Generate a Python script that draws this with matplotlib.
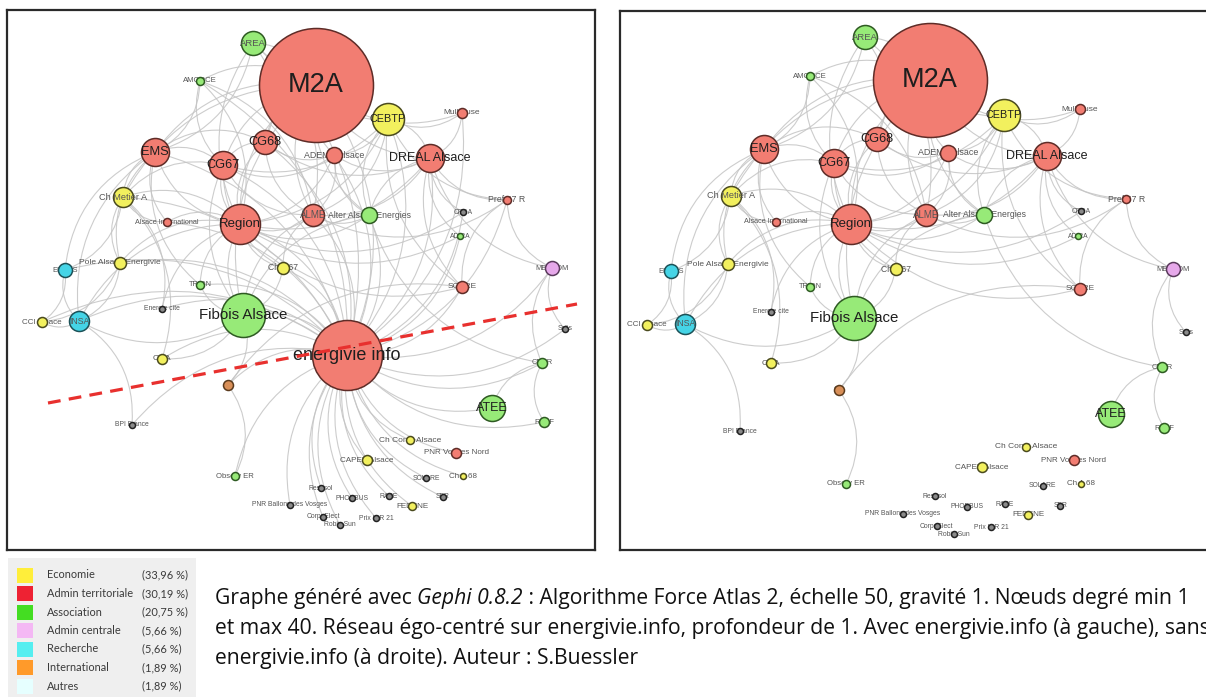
import matplotlib
matplotlib.use("Agg")
import matplotlib.pyplot as plt
from matplotlib.path import Path
from matplotlib.patches import PathPatch, Rectangle

# ---------------- data ----------------
node_names = [
    "M2A", "energivie info", "Fibois Alsace", "Region", "CEBTP", "DREAL Alsace",
    "EMS", "CG67", "ATEE", "CG68", "AREA", "ALME", "Ch Metier A", "INSA",
    "ADEME Alsace", "Alter Alsace Energies", "ENSAS", "MEEDDM", "SOPRE",
    "Pole Alsace Energivie", "Ch A 67", "Mulhouse", "CCI Alsace", "CDER", "RAEF",
    "GE", "CMA", "PNR Vosges Nord", "CAPEB Alsace", "Pref 67 R", "AMORCE", "TRION",
    "Observ ER", "Ch Const Alsace", "FEDENE", "Alsace International", "Ch A 68",
    "Solis", "CRDA", "ADIRA", "Energie cite", "BPI France", "SOLARE", "Resosol",
    "PHOEBUS", "RAPE", "SER", "PNR Ballons des Vosges", "CorpoElect", "Robin Sun",
    "Prix IDR 21",
]
# Gephi layout coordinates (left graph)
node_x = [316, 347, 243, 240, 388, 430, 155, 223, 492, 265, 253, 313, 123, 79,
          334, 369, 65, 552, 462, 120, 283, 462, 42, 542, 544, 228, 162, 456, 367,
          507, 200, 200, 235, 410, 412, 167, 463, 565, 463, 460, 162, 132, 426,
          321, 352, 389, 443, 290, 323, 340, 376]
node_y = [85, 355, 315, 224, 119, 158, 152, 165, 408, 142, 43, 215, 197, 321,
          155, 215, 270, 268, 287, 263, 268, 113, 322, 363, 422, 385, 359, 453,
          460, 200, 81, 285, 476, 440, 506, 222, 476, 329, 212, 236, 309, 425,
          478, 488, 498, 496, 497, 505, 517, 525, 518]
# node size (radius, from degree)
node_size = [57, 35, 22, 20, 16, 14, 14, 14, 13, 12, 12, 11, 10, 10, 8, 8, 7, 7,
             6, 6, 6, 5, 5, 5, 5, 5, 5, 5, 5, 4, 4, 4, 4, 4, 4, 4, 3, 3, 3, 3, 3,
             3, 3, 3, 3, 3, 3, 3, 3, 3, 3]
node_cat = ["terr", "terr", "asso", "terr", "eco", "terr", "terr", "terr", "asso",
            "terr", "asso", "terr", "eco", "rech", "terr", "asso", "rech", "centr",
            "terr", "eco", "eco", "terr", "eco", "asso", "asso", "intl", "eco",
            "terr", "eco", "terr", "asso", "asso", "asso", "eco", "eco", "terr",
            "eco", "autres", "autres", "asso", "autres", "autres", "autres",
            "autres", "autres", "autres", "autres", "autres", "autres", "autres",
            "autres"]

center_node = "energivie info"

edges = [
    ("M2A", "CG68"), ("M2A", "CG67"), ("M2A", "EMS"), ("M2A", "Region"),
    ("M2A", "ADEME Alsace"), ("M2A", "ALME"), ("M2A", "AREA"), ("M2A", "DREAL Alsace"),
    ("M2A", "Alter Alsace Energies"), ("M2A", "AMORCE"), ("M2A", "CEBTP"),
    ("M2A", "Mulhouse"), ("M2A", "Fibois Alsace"), ("M2A", "Ch Metier A"),
    ("CG68", "CG67"), ("CG68", "EMS"), ("CG68", "Region"), ("CG68", "ADEME Alsace"),
    ("CG68", "ALME"), ("CG68", "AREA"), ("CG68", "DREAL Alsace"),
    ("CG67", "EMS"), ("CG67", "Region"), ("CG67", "ADEME Alsace"), ("CG67", "ALME"),
    ("CG67", "Ch Metier A"), ("CG67", "Fibois Alsace"), ("CG67", "Ch A 67"),
    ("CG67", "CEBTP"),
    ("EMS", "Region"), ("EMS", "Ch Metier A"), ("EMS", "AREA"),
    ("EMS", "Alsace International"), ("EMS", "Pole Alsace Energivie"), ("EMS", "ENSAS"),
    ("EMS", "TRION"), ("EMS", "AMORCE"), ("EMS", "INSA"),
    ("Region", "ALME"), ("Region", "ADEME Alsace"), ("Region", "Alter Alsace Energies"),
    ("Region", "DREAL Alsace"), ("Region", "Alsace International"),
    ("Region", "Ch Metier A"), ("Region", "Pole Alsace Energivie"), ("Region", "INSA"),
    ("Region", "TRION"), ("Region", "Energie cite"), ("Region", "Fibois Alsace"),
    ("Region", "Ch A 67"), ("Region", "CEBTP"), ("Region", "AMORCE"),
    ("Region", "ADIRA"), ("Region", "CRDA"), ("Region", "SOPRE"),
    ("ALME", "Alter Alsace Energies"), ("ALME", "ADEME Alsace"),
    ("ALME", "DREAL Alsace"), ("ALME", "CEBTP"), ("ALME", "Fibois Alsace"),
    ("ALME", "Ch A 67"), ("ALME", "AMORCE"), ("ALME", "Pref 67 R"), ("ALME", "AREA"),
    ("ADEME Alsace", "DREAL Alsace"), ("ADEME Alsace", "CEBTP"),
    ("ADEME Alsace", "Alter Alsace Energies"),
    ("DREAL Alsace", "Alter Alsace Energies"), ("DREAL Alsace", "Pref 67 R"),
    ("DREAL Alsace", "CRDA"), ("DREAL Alsace", "ADIRA"), ("DREAL Alsace", "MEEDDM"),
    ("DREAL Alsace", "Mulhouse"), ("DREAL Alsace", "CEBTP"), ("DREAL Alsace", "SOPRE"),
    ("CEBTP", "Mulhouse"), ("CEBTP", "Pref 67 R"), ("CEBTP", "Alter Alsace Energies"),
    ("CEBTP", "SOPRE"),
    ("Alter Alsace Energies", "CDER"), ("Alter Alsace Energies", "Fibois Alsace"),
    ("Pref 67 R", "MEEDDM"), ("Pref 67 R", "SOPRE"),
    ("MEEDDM", "CDER"), ("MEEDDM", "Solis"), ("CDER", "ATEE"), ("CDER", "RAEF"),
    ("SOPRE", "GE"), ("Observ ER", "GE"), ("GE", "Fibois Alsace"),
    ("BPI France", "INSA"), ("CMA", "Fibois Alsace"), ("CMA", "Ch Metier A"),
    ("CCI Alsace", "INSA"), ("CCI Alsace", "ENSAS"), ("CCI Alsace", "Pole Alsace Energivie"),
    ("ENSAS", "INSA"), ("ENSAS", "Ch Metier A"), ("INSA", "Fibois Alsace"),
    ("INSA", "Pole Alsace Energivie"), ("TRION", "Fibois Alsace"),
    ("Energie cite", "Ch Metier A"), ("Ch Metier A", "Pole Alsace Energivie"),
    ("Ch Metier A", "Alsace International"), ("Fibois Alsace", "Ch A 67"),
    ("AREA", "Region"), ("AMORCE", "CG67"),
]

legend_labels = ["Economie", "Admin territoriale", "Association", "Admin centrale",
                 "Recherche", "International", "Autres"]
legend_shares = ["(33,96 %)", "(30,19 %)", "(20,75 %)", "(5,66 %)", "(5,66 %)",
                 "(1,89 %)", "(1,89 %)"]

caption_lines = [
    [("Graphe généré avec ", "normal"), ("Gephi 0.8.2", "italic"),
     (" : Algorithme Force Atlas 2, échelle 50, gravité 1. Nœuds degré min 1", "normal")],
    [("et max 40. Réseau égo-centré sur energivie.info, profondeur de 1. "
      "Avec energivie.info (à gauche), sans", "normal")],
    [("energivie.info (à droite). Auteur : S.Buessler", "normal")],
]

# ---------------- style ----------------
W, H = 1206, 697
fill = {"eco": "#F2F05E", "terr": "#F27D72", "asso": "#97EA78", "centr": "#E6A8EA",
        "rech": "#45D4E6", "intl": "#D88F58", "autres": "#8A8A8A"}
border = {"eco": "#4A4A1E", "terr": "#5E2C27", "asso": "#2E5A22", "centr": "#5A3A5C",
          "rech": "#1C5258", "intl": "#5A3A1C", "autres": "#222222"}
legend_colors = ["#FFEE3A", "#EE2233", "#44DD22", "#F4B8F4", "#55EEF0", "#FF9A2A",
                 "#E6FFFF"]
label_pt = {"M2A": 19.5, "energivie info": 13, "Fibois Alsace": 10.8, "Region": 9.5,
            "DREAL Alsace": 9, "EMS": 9.3, "CG67": 9.2, "CG68": 9.2, "CEBTP": 7.8,
            "ATEE": 9, "AREA": 6.8, "ALME": 7, "ADEME Alsace": 6.4,
            "Alter Alsace Energies": 6.2, "Ch Metier A": 6.6, "INSA": 6.3,
            "ENSAS": 5.4, "MEEDDM": 5.4, "SOPRE": 6, "Pole Alsace Energivie": 6,
            "Ch A 67": 6.2, "Mulhouse": 6, "CCI Alsace": 5.8, "CDER": 5.4, "RAEF": 5.4,
            "CMA": 6, "PNR Vosges Nord": 5.8, "CAPEB Alsace": 5.9, "Pref 67 R": 6.3,
            "AMORCE": 5.6, "TRION": 5.3, "Observ ER": 5.6, "Ch Const Alsace": 6,
            "FEDENE": 5.8, "Alsace International": 5.2, "Ch A 68": 5.8}
dark_labels = {"M2A", "energivie info", "Fibois Alsace", "Region", "DREAL Alsace",
               "EMS", "CG67", "CG68", "CEBTP", "ATEE"}
LABEL_FONT = "Liberation Sans"

fig = plt.figure(figsize=(W / 100, H / 100), dpi=100)
fig.patch.set_facecolor("white")

# overlay in pixel coordinates for legend and caption
ov = fig.add_axes([0, 0, 1, 1], zorder=0)
ov.set_xlim(0, W)
ov.set_ylim(H, 0)
ov.axis("off")


def make_panel(left_px, top_px, w_px, h_px, xlim, ylim):
    ax = fig.add_axes([left_px / W, 1 - (top_px + h_px) / H, w_px / W, h_px / H],
                      zorder=2)
    ax.set_xlim(*xlim)
    ax.set_ylim(*ylim)
    ax.set_xticks([])
    ax.set_yticks([])
    for s in ax.spines.values():
        s.set_color("#2a2a2a")
        s.set_linewidth(1.6)
    return ax


def curved_edge(ax, p0, p1, bend=0.3):
    (x0, y0), (x1, y1) = p0, p1
    mx, my = (x0 + x1) / 2, (y0 + y1) / 2
    dx, dy = x1 - x0, y1 - y0
    cx, cy = mx - bend * dy, my + bend * dx
    path = Path([(x0, y0), (cx, cy), (x1, y1)],
                [Path.MOVETO, Path.CURVE3, Path.CURVE3])
    ax.add_patch(PathPatch(path, fc="none", ec="#C4C4C4", lw=0.8, alpha=0.85,
                           zorder=1))


def draw_graph(ax, with_center):
    pos = {n: (x, y) for n, x, y in zip(node_names, node_x, node_y)}
    edge_list = list(edges)
    if with_center:
        edge_list += [(center_node, n) for n in node_names if n != center_node]
    for a, b in edge_list:
        curved_edge(ax, pos[a], pos[b])
    for n, x, y, r, c in zip(node_names, node_x, node_y, node_size, node_cat):
        if n == center_node and not with_center:
            continue
        d = 2 * r * 0.72
        ax.scatter([x], [y], s=d * d, c=fill[c], edgecolors=border[c],
                   linewidths=1.1, zorder=3)
        fs = label_pt.get(n, 4.9)
        col = "#1E1E1E" if n in dark_labels else "#555555"
        ax.text(x, y, n, ha="center", va="center", fontsize=fs, color=col,
                family=LABEL_FONT, zorder=4 if r > 8 else 2.5)


axL = make_panel(7, 10, 588, 540, (7, 595), (550, 10))
draw_graph(axL, True)
axL.plot([48, 577], [403, 304], color="#E8302E", lw=2.3, dashes=(4, 2.6),
         zorder=5, solid_capstyle="butt")

axR = make_panel(620, 11, 588, 539, (15.5, 586.4), (540.1, 17.8))
draw_graph(axR, False)

# legend
ov.add_patch(Rectangle((8, 558), 188, 145, fc="#EFEFEF", ec="none"))
for i, (lab, sh, col) in enumerate(zip(legend_labels, legend_shares, legend_colors)):
    yc = 575 + i * 18.5
    ov.add_patch(Rectangle((17, yc - 7.5), 16, 15, fc=col, ec="none"))
    ov.text(47, yc, lab, fontsize=7.9, color="#3a3a3a", va="center", ha="left",
            family="Lato")
    ov.text(142, yc, sh, fontsize=7.9, color="#3a3a3a", va="center", ha="left",
            family="Lato")

# caption
for i, parts in enumerate(caption_lines):
    y = 604 + i * 30
    prev = None
    for txt, style in parts:
        if prev is None:
            prev = ov.text(215, y, txt, fontsize=15.2, style=style, color="#111111",
                           family="Open Sans", va="baseline", ha="left")
        else:
            prev = ov.annotate(txt, xy=(1, 0), xycoords=prev, fontsize=15.2,
                               style=style, color="#111111", family="Open Sans",
                               va="bottom", ha="left")

fig.savefig("out.png", dpi=100)
